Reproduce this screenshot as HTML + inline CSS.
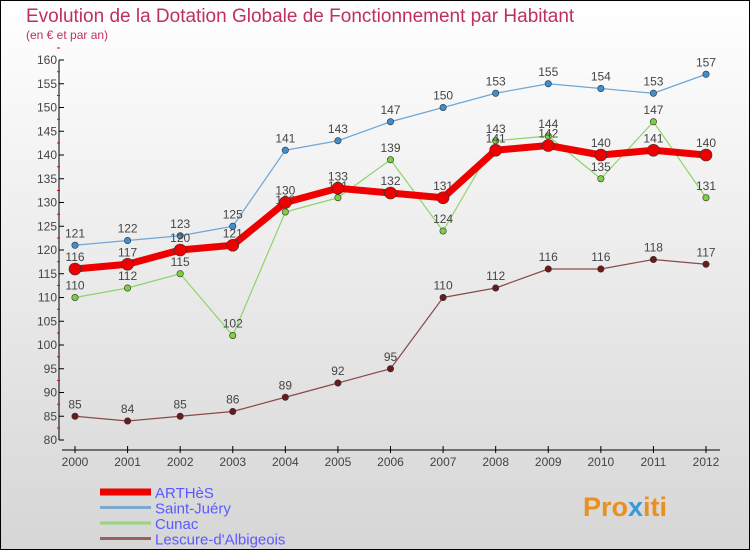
<!DOCTYPE html>
<html><head><meta charset="utf-8"><style>
html,body{margin:0;padding:0}
body{width:750px;height:550px;overflow:hidden;font-family:"Liberation Sans",sans-serif}
</style></head><body>
<svg id="chart" width="750" height="550" xmlns="http://www.w3.org/2000/svg">
<defs><linearGradient id="bg" x1="0" y1="0" x2="0" y2="1"><stop offset="0" stop-color="#ffffff"/><stop offset="1" stop-color="#d6d6d6"/></linearGradient></defs>
<rect x="0.5" y="0.5" width="749" height="549" fill="url(#bg)" stroke="#000"/>
<text x="26" y="22" font-size="19" fill="#c0305a">Evolution de la Dotation Globale de Fonctionnement par Habitant</text>
<text x="26" y="39" font-size="12" fill="#c0305a">(en € et par an)</text>
<g id="axes"></g><g id="series"></g><g id="legend"></g>
<text x="583" y="516" font-size="27" font-weight="bold" fill="#e89020">Pro<tspan fill="#3a9ad9">x</tspan>iti</text>
</svg>
<script>
const years=["2000","2001","2002","2003","2004","2005","2006","2007","2008","2009","2010","2011","2012"];
const yTicks=[80,85,90,95,100,105,110,115,120,125,130,135,140,145,150,155,160];
const arthes=[116,117,120,121,130,133,132,131,141,142,140,141,140];
const saintJuery=[121,122,123,125,141,143,147,150,153,155,154,153,157];
const cunac=[110,112,115,102,128,131,139,124,143,144,135,147,131];
const lescure=[85,84,85,86,89,92,95,110,112,116,116,118,117];
const NS="http://www.w3.org/2000/svg";
const X=i=>75+i*(631/12);
const Y=v=>440-(v-80)*4.75;
function mk(tag,attrs,parent,txt){const e=document.createElementNS(NS,tag);for(const k in attrs)e.setAttribute(k,attrs[k]);if(txt!==undefined)e.textContent=txt;parent.appendChild(e);return e;}
const ax=document.getElementById('axes');
let e=mk('line',{x1:59,y1:Y(160),x2:59,y2:Y(80),stroke:'#000'},ax);


yTicks.forEach(v=>{
 let t=mk('line',{x1:59,y1:Y(v),x2:64,y2:Y(v),stroke:'#000'},ax);
 
 
 let m=mk('line',{x1:57,y1:Y(v)-12,x2:60,y2:Y(v)-12,stroke:'#e00'},ax);
 
 
 let l=mk('text',{x:57,y:Y(v)+4,'font-size':12,fill:'#444','text-anchor':'end'},ax,String(v));
 
 
});
e=mk('line',{x1:62,y1:450,x2:720,y2:450,stroke:'#000'},ax);


years.forEach((y,i)=>{
 let t=mk('line',{x1:X(i),y1:446,x2:X(i),y2:453,stroke:'#000'},ax);
 
 
 let l=mk('text',{x:X(i),y:466,'font-size':12,fill:'#444','text-anchor':'middle'},ax,y);
 
 
});
const sg=document.getElementById('series');
function series(name,data,color,w,r,dot){
 const g=mk('g',{},sg);
 
 
 const pl=mk('polyline',{points:data.map((v,i)=>X(i)+','+Y(v)).join(' '),fill:'none',stroke:color,'stroke-width':w,'stroke-linejoin':'round'},g);
 
 
 data.forEach((v,i)=>{
  const c=mk('circle',{cx:X(i),cy:Y(v),r:r,fill:dot,stroke:'#333','stroke-width':0.6},g);
  
  
  const t=mk('text',{x:X(i),y:Y(v)-8,'font-size':12,fill:'#444','text-anchor':'middle'},g,String(v));
  
  
 });
}
series('cunac',cunac,'#8fd46a',1.2,3.2,'#7ccf3e');
series('saint-juery',saintJuery,'#6fa6d6',1.2,3.2,'#3f8fd0');
series('lescure',lescure,'#8a4a4a',1.2,3.2,'#6a1a1a');
series('arthes',arthes,'#ee0000',7,6,'#ee0000');
const lg=document.getElementById('legend');
const items=[["ARTHèS","#ee0000",7],["Saint-Juéry","#7aaad0",3],["Cunac","#9ad47a",3],["Lescure-d'Albigeois","#9a6060",3]];
items.forEach((it,i)=>{
 const yy=492+i*15.5;
 const g=mk('g',{},lg);
 
 
 const l=mk('line',{x1:100,y1:yy,x2:151,y2:yy,stroke:it[1],'stroke-width':it[2]},g);
 
 
 const t=mk('text',{x:155,y:yy+6,'font-size':15,fill:'#5a5aff'},g,it[0]);
 
 
});
</script>
</body></html>
